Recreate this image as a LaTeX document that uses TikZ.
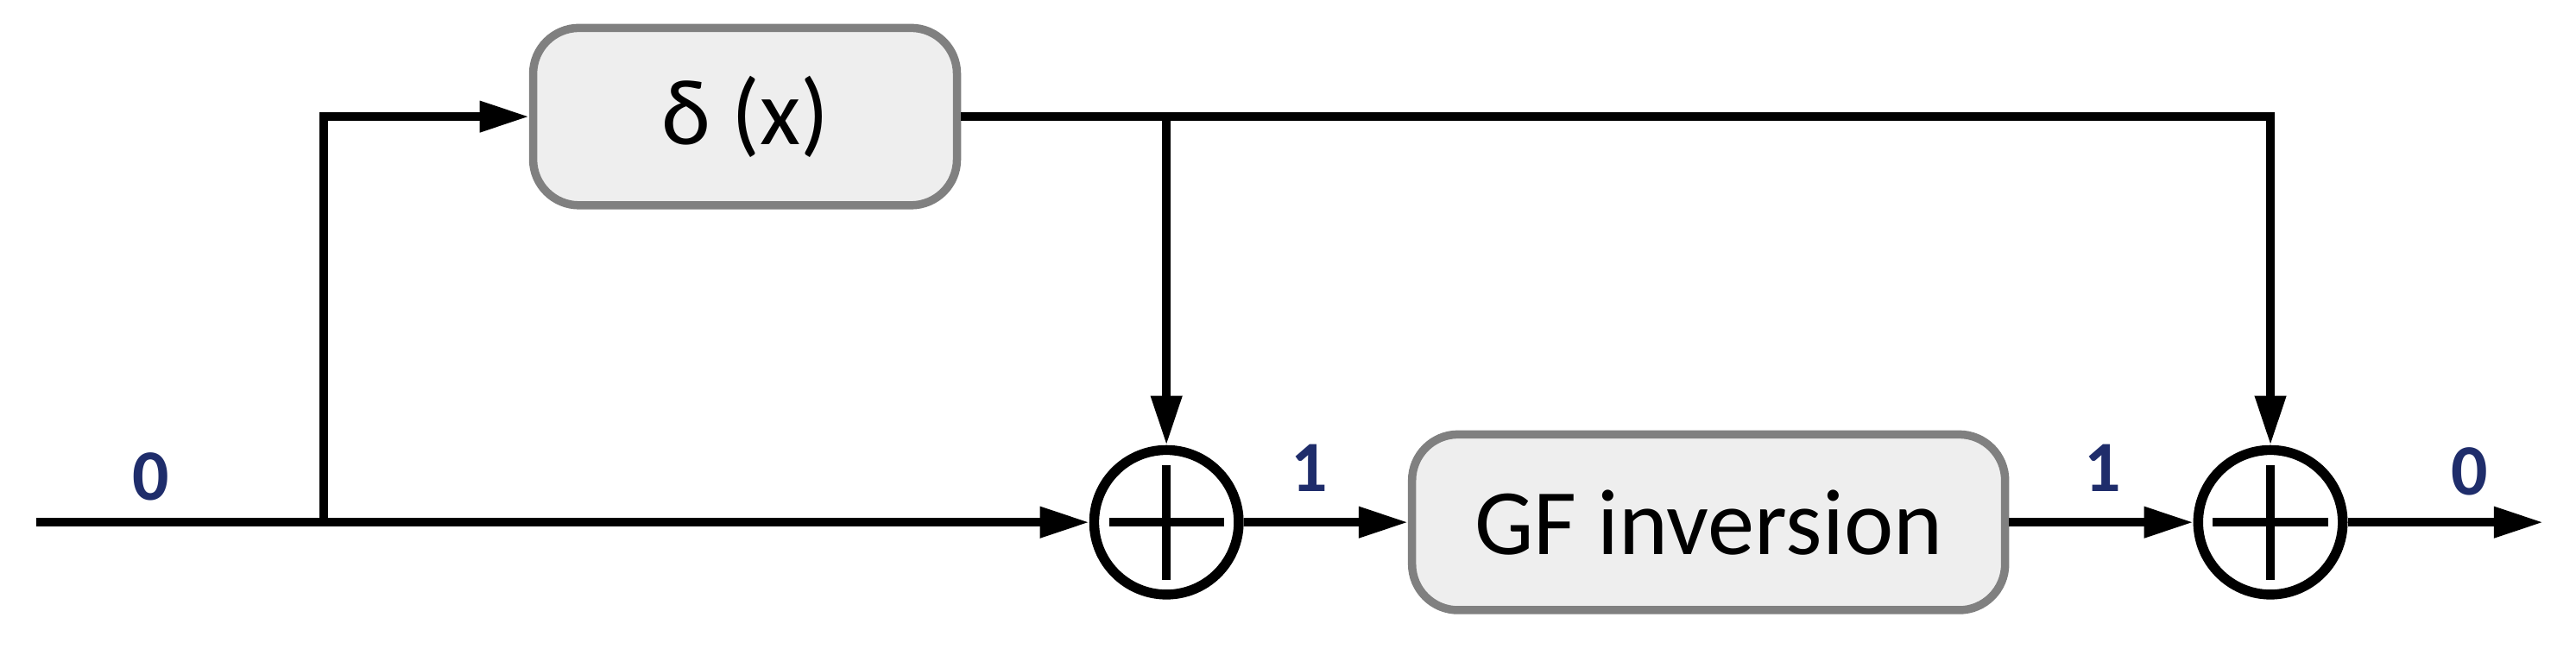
\documentclass[tikz,border=0pt]{standalone}
\usepackage{fontspec}
\setmainfont{Carlito}
\usetikzlibrary{arrows.meta}
\definecolor{boxfill}{HTML}{EEEEEE}
\definecolor{boxline}{HTML}{808080}
\definecolor{lbl}{HTML}{1F2D6B}
\begin{document}
\begin{tikzpicture}[x=1pt,y=-1pt,
  box/.style={draw=boxline,fill=boxfill,line width=5pt,rounded corners=28pt,inner sep=0pt,font=\fontsize{57}{60}\selectfont},
  sum/.style={circle,draw,line width=6pt,minimum size=88pt,inner sep=0pt},
  wire/.style={line width=5pt},
  arr/.style={wire,-{Triangle[length=30pt,width=18pt]}},
  lab/.style={text=lbl,font=\fontsize{44}{44}\selectfont\bfseries}]
\useasboundingbox (0,0) rectangle (1568,395);
\node[box,minimum width=258pt,minimum height=108pt] (d) at (453.5,71) {δ (x)};
\node[box,minimum width=361pt,minimum height=107pt] (g) at (1040,318) {GF inversion};
\node[sum] (s1) at (710,318) {};
\node[sum] (s2) at (1382,318) {};
\foreach \s in {s1,s2}{
  \draw[line width=5pt,shorten <=12pt,shorten >=12pt] (\s.west) -- (\s.east);
  \draw[line width=5pt,shorten <=12pt,shorten >=12pt] (\s.north) -- (\s.south);}
\coordinate (in) at (22,318);
\coordinate (b) at (197,318);
\coordinate (out) at (1548,318);
\coordinate (t1) at (710,71);
\coordinate (t2) at (1382,71);
\draw[wire] (in) -- (b);
\draw[arr] (b) -- (s1.west);
\draw[arr] (b) -- (197,71) -- (d.west);
\draw[wire] (d.east) -- (t1);
\draw[arr] (t1) -- (s1.north);
\draw[arr] (t1) -- (t2) -- (s2.north);
\draw[arr] (s1.east) -- (g.west);
\draw[arr] (g.east) -- (s2.west);
\draw[arr] (s2.east) -- (out);
\node[lab] (l0) at (92,290) {0};
\node[lab] (l1) at (797,285) {1};
\node[lab] (l2) at (1280,285) {1};
\node[lab] (l3) at (1503,287) {0};
\end{tikzpicture}
\end{document}
